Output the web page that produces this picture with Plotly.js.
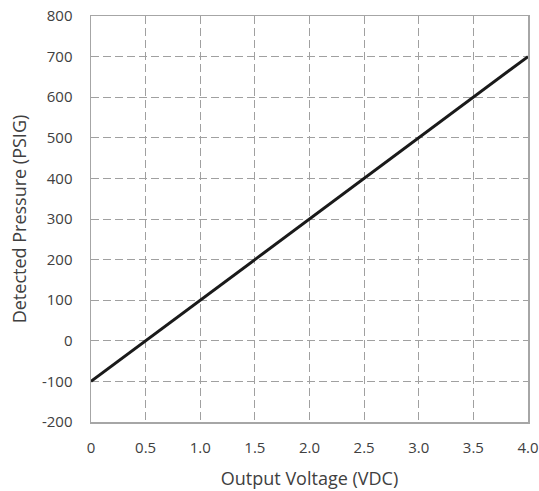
<!DOCTYPE html>
<html><head><meta charset="utf-8">
<script src="https://cdn.plot.ly/plotly-3.0.1.min.js"></script>
<style>body{margin:0;background:#fff}#c{width:539px;height:491px}</style>
</head><body><div id="c"></div>
<script>
const voltage = [0, 4.0];
const pressure = [-100, 700];
const xTickVals = [0, 0.5, 1.0, 1.5, 2.0, 2.5, 3.0, 3.5, 4.0];
const xTickText = ["0", "0.5", "1.0", "1.5", "2.0", "2.5", "3.0", "3.5", "4.0"];
const yTickVals = [-200, -100, 0, 100, 200, 300, 400, 500, 600, 700, 800];
const yTickText = ["-200", "-100", "0", "100", "200", "300", "400", "500", "600", "700", "800"];

const fam = "Open Sans, Liberation Sans, sans-serif";
const tickFont = {family: fam, size: 15, color: "#404040"};
const titleFont = {family: fam, size: 18, color: "#404040"};
Plotly.newPlot("c", [{
  x: voltage, y: pressure, mode: "lines", type: "scatter",
  line: {color: "#1a1a1a", width: 3}, hoverinfo: "skip"
}], {
  width: 539, height: 491,
  margin: {l: 91, r: 11, t: 16, b: 69, autoexpand: false},
  paper_bgcolor: "#fff", plot_bgcolor: "#fff",
  showlegend: false,
  font: tickFont,
  xaxis: {
    range: [0, 4], tickvals: xTickVals, ticktext: xTickText,
    showgrid: true, gridcolor: "#a0a0a0", griddash: "8px,4px", gridwidth: 1,
    showline: true, linecolor: "#a6a6a6", linewidth: 1.5, mirror: true,
    zeroline: false, ticks: "", ticklabelstandoff: 11, tickfont: tickFont,
    automargin: false,
    title: {text: "Output Voltage (VDC)", font: titleFont, standoff: 17}
  },
  yaxis: {
    range: [-200, 800], tickvals: yTickVals, ticktext: yTickText,
    showgrid: true, gridcolor: "#a0a0a0", griddash: "8px,4px", gridwidth: 1,
    showline: true, linecolor: "#a6a6a6", linewidth: 1.5, mirror: true,
    zeroline: false, ticks: "", ticklabelstandoff: 14, tickfont: tickFont,
    automargin: false,
    title: {text: "Detected Pressure (PSIG)", font: titleFont, standoff: 10}
  }
}, {staticPlot: true});
</script></body></html>
